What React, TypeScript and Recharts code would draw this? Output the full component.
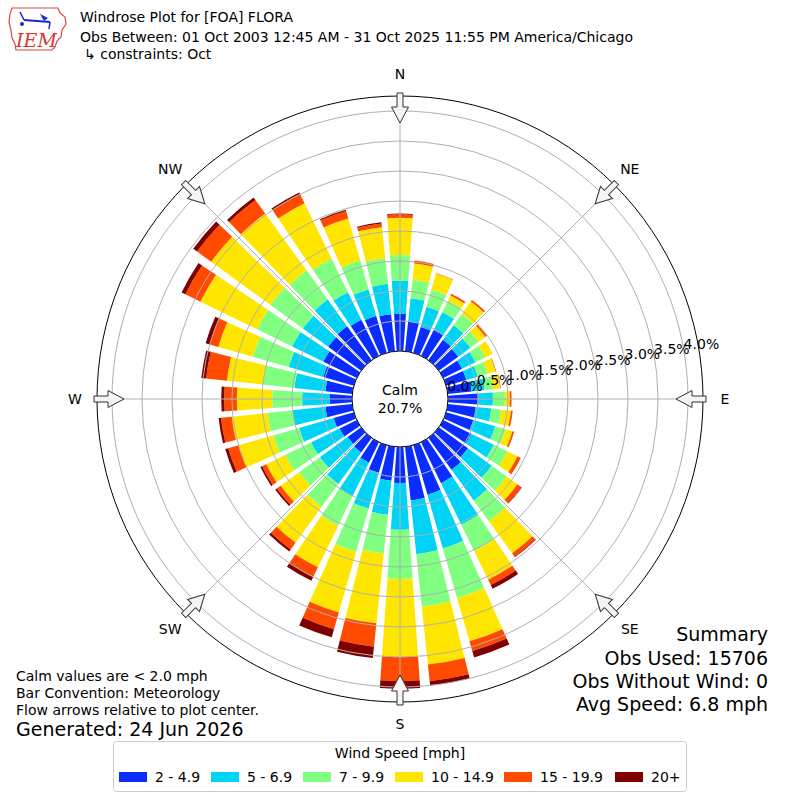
import React from 'react';
import {
  RadialBarChart,
  RadialBar,
  PolarAngleAxis,
  PolarRadiusAxis,
  PolarGrid,
} from 'recharts';

// direction of each bar (degrees from north, clockwise)
const DIRECTIONS = [0, 10, 20, 30, 40, 50, 60, 70, 80, 90, 100, 110, 120, 130, 140, 150, 160, 170,
  180, 190, 200, 210, 220, 230, 240, 250, 260, 270, 280, 290, 300, 310, 320, 330, 340, 350];

// frequency (%) per speed bin, one value per direction
const SPD_2_5 = [0.62, 0.50, 0.45, 0.48, 0.42, 0.40, 0.35, 0.35, 0.40, 0.50, 0.47, 0.47, 0.52, 0.60, 0.66, 0.76, 0.86, 0.90,
  0.60, 0.57, 0.48, 0.38, 0.30, 0.28, 0.32, 0.35, 0.45, 0.37, 0.45, 0.53, 0.62, 0.68, 0.70, 0.67, 0.64, 0.62];
const SPD_5_7 = [0.55, 0.39, 0.35, 0.33, 0.30, 0.25, 0.25, 0.20, 0.22, 0.25, 0.26, 0.38, 0.42, 0.49, 0.63, 0.77, 0.93, 0.90,
  0.78, 0.57, 0.62, 0.62, 0.65, 0.57, 0.53, 0.60, 0.55, 0.46, 0.52, 0.60, 0.58, 0.52, 0.55, 0.51, 0.46, 0.51];
const SPD_7_10 = [0.43, 0.31, 0.30, 0.21, 0.23, 0.17, 0.18, 0.17, 0.14, 0.20, 0.17, 0.18, 0.25, 0.31, 0.43, 0.49, 0.86, 0.88,
  0.82, 0.65, 0.75, 0.55, 0.47, 0.43, 0.48, 0.45, 0.42, 0.50, 0.53, 0.62, 0.65, 0.67, 0.60, 0.62, 0.50, 0.43];
const SPD_10_15 = [0.62, 0.27, 0.27, 0.10, 0.26, 0.14, 0.14, 0.14, 0.12, 0.08, 0.16, 0.12, 0.19, 0.22, 0.66, 0.53, 0.75, 0.97,
  1.30, 1.17, 1.05, 0.77, 0.74, 0.38, 0.35, 0.60, 0.60, 0.59, 0.60, 0.60, 1.05, 1.22, 1.17, 1.03, 0.73, 0.52];
const SPD_15_20 = [0.06, 0.05, 0.01, 0.03, 0.03, 0.03, 0.00, 0.01, 0.01, 0.03, 0.03, 0.03, 0.06, 0.08, 0.07, 0.10, 0.17, 0.28,
  0.40, 0.39, 0.29, 0.18, 0.14, 0.08, 0.08, 0.18, 0.18, 0.21, 0.35, 0.15, 0.28, 0.29, 0.28, 0.17, 0.13, 0.06];
const SPD_20_UP = [0.01, 0.00, 0.00, 0.00, 0.00, 0.00, 0.00, 0.00, 0.00, 0.00, 0.00, 0.00, 0.00, 0.01, 0.01, 0.07, 0.11, 0.07,
  0.13, 0.19, 0.14, 0.07, 0.04, 0.03, 0.03, 0.05, 0.04, 0.05, 0.08, 0.07, 0.07, 0.08, 0.05, 0.03, 0.02, 0.02];

const BIN_LABELS = ['2 - 4.9', '5 - 6.9', '7 - 9.9', '10 - 14.9', '15 - 19.9', '20+'];
const BIN_COLORS = ['#0a2cff', '#00d4f6', '#80ff80', '#ffe600', '#ff4a00', '#800000'];
const BIN_KEYS = ['s0', 's1', 's2', 's3', 's4', 's5'];

const RADIUS_TICKS = [0, 0.5, 1, 1.5, 2, 2.5, 3, 3.5, 4];
const COMPASS = ['N', 'NE', 'E', 'SE', 'S', 'SW', 'W', 'NW'];
const CALM_PCT = 20.7;

const rows = DIRECTIONS.map((d, i) => ({
  dir: d,
  s0: SPD_2_5[i],
  s1: SPD_5_7[i],
  s2: SPD_7_10[i],
  s3: SPD_10_15[i],
  s4: SPD_15_20[i],
  s5: SPD_20_UP[i],
}));

const FONT = '"DejaVu Sans", sans-serif';
const CX = 400;
const CY = 399;
const INNER = 48;
const OUTER = 303;

const RadiusTick = (props: any) => {
  const { x, y, payload } = props;
  return (
    <text x={x} y={y} textAnchor="start" fontSize={14} fontFamily={FONT} fill="#000">
      {Number(payload.value).toFixed(1)}%
    </text>
  );
};

// inward-pointing arrow + label at each compass point
const CompassMarks = () => (
  <g>
    {COMPASS.map((name, i) => {
      const b = i * 45;
      const rad = (b * Math.PI) / 180;
      const tx = CX + 306 * Math.sin(rad);
      const ty = CY - 306 * Math.cos(rad);
      const lx = CX + 325 * Math.sin(rad);
      const ly = CY - 325 * Math.cos(rad);
      return (
        <g key={name}>
          <polygon
            points="0,-3 14,-3 14,-8.5 30,0 14,8.5 14,3 0,3"
            transform={`translate(${tx},${ty}) rotate(${b + 90})`}
            fill="#f4f4f4"
            stroke="#333"
            strokeWidth={1}
          />
          <text x={lx} y={ly} textAnchor="middle" dominantBaseline="central" fontSize={14} fontFamily={FONT}>
            {name}
          </text>
        </g>
      );
    })}
  </g>
);

const Logo = () => (
  <g>
    <path
      d="M12,8 L58,8 L60,13 L65,17 L66,24 L62,30 L61,37 L57,41 L55,47 L52,50 L16,50 L15,44 L12,38 L11,30 L9,22 L10,14 Z"
      fill="none"
      stroke="#d44"
      strokeWidth={1.2}
    />
    <line x1={24} y1={20} x2={50} y2={22} stroke="#1a2ad0" strokeWidth={2} />
    <line x1={24} y1={20} x2={20} y2={12} stroke="#1a2ad0" strokeWidth={1.5} />
    <polygon points="40,14 48,18 44,21" fill="#1a2ad0" />
    <circle cx={22} cy={24} r={2} fill="#1a2ad0" />
    <line x1={50} y1={22} x2={49} y2={29} stroke="#1a2ad0" strokeWidth={1.5} />
    <text x={16} y={47} fontSize={19} fontStyle="italic" fontFamily="'DejaVu Serif', serif" fill="#d33">
      IEM
    </text>
  </g>
);

export default function App() {
  return (
    <div style={{ position: 'absolute', left: 0, top: 0, width: 800, height: 800, background: '#fff', fontFamily: FONT }}>
      <RadialBarChart
        width={800}
        height={800}
        data={rows}
        cx={CX}
        cy={CY}
        innerRadius={INNER}
        outerRadius={OUTER}
        startAngle={85}
        endAngle={-275}
        layout="centric"
        barCategoryGap="10%"
        margin={{ top: 0, right: 0, bottom: 0, left: 0 }}
      >
        <PolarAngleAxis
          type="category"
          dataKey="dir"
          tick={false}
          tickLine={false}
          axisLineType="circle"
          axisLine={{ stroke: '#000', strokeWidth: 1 }}
        />
        {BIN_KEYS.map((k, i) => (
          <RadialBar
            key={k}
            dataKey={k}
            stackId="w"
            fill={BIN_COLORS[i]}
            isAnimationActive={false}
          />
        ))}
        <PolarGrid
          gridType="circle"
          polarAngles={[90, 45, 0, -45, -90, -135, 180, 135]}
          stroke="#b0b0b0"
          strokeWidth={1}
          zIndex={600}
        />
        <PolarRadiusAxis
          type="number"
          domain={[0, 4.25]}
          ticks={RADIUS_TICKS}
          angle={10}
          axisLine={false}
          tickLine={false}
          tick={RadiusTick}
          zIndex={700}
        />
      </RadialBarChart>

      <svg width={800} height={800} style={{ position: 'absolute', left: 0, top: 0, pointerEvents: 'none' }}>
        <Logo />
        <g fontFamily={FONT} fontSize={14} fill="#000">
          <text x={80} y={22}>Windrose Plot for [FOA] FLORA</text>
          <text x={80} y={42}>Obs Between: 01 Oct 2003 12:45 AM - 31 Oct 2025 11:55 PM America/Chicago</text>
          <text x={84} y={59}>↳ constraints: Oct</text>
        </g>
        <circle cx={CX} cy={CY} r={INNER} fill="#fff" stroke="#000" strokeWidth={1} />
        <text x={CX} y={390} textAnchor="middle" dominantBaseline="central" fontSize={14} fontFamily={FONT}>Calm</text>
        <text x={CX} y={408} textAnchor="middle" dominantBaseline="central" fontSize={14} fontFamily={FONT}>
          {CALM_PCT.toFixed(1)}%
        </text>
        <CompassMarks />
        <g fontFamily={FONT} fontSize={14} fill="#000">
          <text x={16} y={681}>Calm values are &lt; 2.0 mph</text>
          <text x={16} y={698}>Bar Convention: Meteorology</text>
          <text x={16} y={715}>Flow arrows relative to plot center.</text>
        </g>
        <text x={16} y={736} fontFamily={FONT} fontSize={19}>Generated: 24 Jun 2026</text>
        <g fontFamily={FONT} fontSize={19} textAnchor="end">
          <text x={768} y={641}>Summary</text>
          <text x={768} y={665}>Obs Used: 15706</text>
          <text x={768} y={688}>Obs Without Wind: 0</text>
          <text x={768} y={711}>Avg Speed: 6.8 mph</text>
        </g>
        <rect x={113.5} y={741.5} width={573} height={50} rx={3} fill="#fff" stroke="#ccc" strokeWidth={1} />
        <text x={400} y={753} textAnchor="middle" dominantBaseline="central" fontSize={14} fontFamily={FONT}>
          Wind Speed [mph]
        </text>
        {BIN_LABELS.map((lab, i) => {
          const xs = [119, 211, 303, 395, 504, 615][i];
          return (
            <g key={lab}>
              <rect x={xs} y={772} width={28} height={10} fill={BIN_COLORS[i]} />
              <text x={xs + 36} y={777} dominantBaseline="central" fontSize={14} fontFamily={FONT}>
                {lab}
              </text>
            </g>
          );
        })}
      </svg>
    </div>
  );
}
